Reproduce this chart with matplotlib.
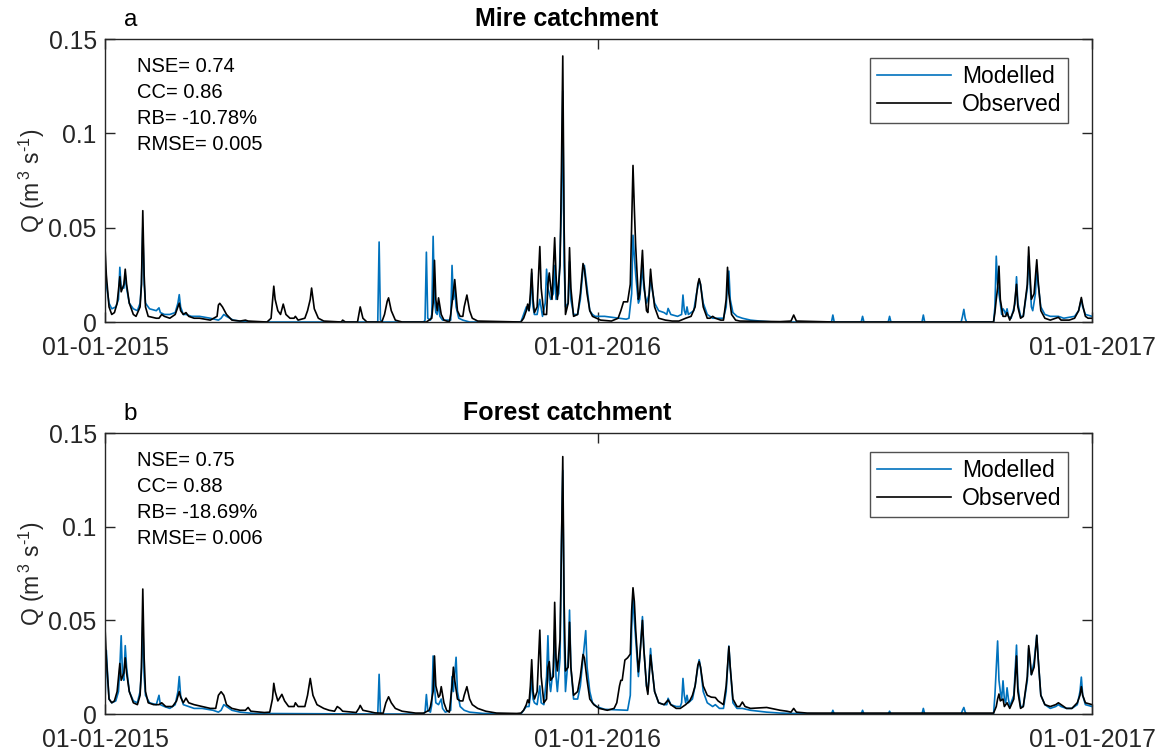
import numpy as np
import matplotlib
matplotlib.use("Agg")
import matplotlib.pyplot as plt
import matplotlib.dates as mdates

plt.rcParams["font.family"] = ["Liberation Sans", "DejaVu Sans"]
plt.rcParams["mathtext.fontset"] = "custom"
plt.rcParams["mathtext.rm"] = "Liberation Sans"

# (day since 01-01-2015, discharge m3/s) at the turning points
MIRE_OBS = [
    (0, .040), (1, .025), (3, .008), (5, .004), (7, .005), (9, .010), (11, .024), (12, .016), (14, .020),
    (15, .028), (16, .020), (18, .010), (21, .004), (23, .003), (26, .008), (27, .020), (28, .059),
    (29, .025), (30, .008), (32, .003), (38, .002), (40, .002), (42, .004), (44, .003), (48, .002),
    (52, .004), (54, .008), (55, .010), (56, .006), (58, .004), (60, .005), (62, .003), (66, .002),
    (70, .002), (78, .001), (83, .003), (84, .009), (85, .0099), (87, .008), (90, .004), (94, .001),
    (100, .0005), (104, .001), (106, .0005), (120, 0), (123, .002), (125, .019), (126, .012), (128, .006),
    (130, .004), (132, .0095), (134, .004), (137, .002), (140, .002), (141, .003), (143, .001), (148, .002),
    (150, .006), (152, .012), (153, .018), (155, .007), (158, .002), (162, .0005), (175, 0), (176, .001),
    (178, 0), (187, 0), (188, .004), (189, .008), (191, .002), (194, 0), (205, 0), (207, .004),
    (209, .011), (210, .0128), (212, .006), (215, .001), (220, 0), (238, 0), (240, .001), (242, .002),
    (243, .010), (244, .0327), (245, .012), (246, .006), (247, .0128), (249, .004), (251, .001), (255, 0),
    (256, .004), (257, .010), (259, .0225), (261, .006), (263, .003), (265, .003), (266, .008),
    (268, .0143), (270, .006), (272, .002), (276, .0005), (308, 0), (310, .002), (312, .006), (313, .0095),
    (314, .006), (315, .015), (316, .028), (317, .012), (318, .005), (320, .008), (322, .040), (323, .018),
    (325, .004), (327, .004), (328, .020), (329, .026), (331, .012), (333, .0447), (334, .025), (335, .012),
    (337, .030), (338, .080), (339, .141), (340, .050), (341, .004), (343, .010), (344, .0394), (345, .018),
    (347, .003), (350, .004), (352, .015), (354, .031), (355, .028), (357, .015), (359, .006), (361, .003),
    (364, .002), (367, .001), (375, .0005), (380, .002), (382, .006), (384, .0107), (387, .0107),
    (389, .020), (391, .083), (392, .060), (393, .040), (395, .012), (396, .015), (398, .038), (399, .022),
    (401, .006), (402, .005), (403, .015), (404, .028), (405, .020), (407, .008), (410, .002), (415, .001),
    (420, .0005), (425, .0005), (430, .002), (434, .003), (437, .008), (439, .020), (440, .023),
    (441, .020), (443, .008), (446, .002), (448, .002), (450, .003), (452, .002), (456, .001), (458, .001),
    (460, .012), (461, .029), (462, .015), (464, .004), (467, .001), (470, .0005), (500, .0002),
    (508, .0005), (510, .0037), (512, .0005), (540, 0), (658, 0), (659, .005), (660, .012), (661, .018),
    (662, .0296), (663, .012), (665, .003), (667, .003), (668, .005), (670, .001), (673, .006), (675, .020),
    (676, .008), (678, .002), (680, .003), (683, .020), (684, .0398), (685, .025), (686, .012), (688, .015),
    (690, .033), (691, .022), (693, .006), (696, .002), (700, .001), (704, .002), (706, .0025), (708, .001),
    (714, .001), (718, .002), (721, .006), (723, .013), (724, .009), (726, .003), (728, .002), (731, .002),
]

MIRE_MOD = [
    (0, .030), (1, .020), (3, .010), (5, .007), (8, .008), (10, .012), (11, .029), (12, .018), (14, .018),
    (15, .025), (16, .018), (18, .010), (21, .007), (24, .006), (26, .010), (27, .020), (28, .050),
    (29, .020), (30, .010), (33, .007), (38, .006), (40, .0075), (41, .005), (44, .004), (48, .004),
    (52, .005), (54, .010), (55, .0145), (56, .008), (58, .004), (60, .004), (64, .003), (70, .003),
    (78, .002), (84, .001), (86, .002), (88, .004), (90, .003), (95, .001), (100, .0005), (110, 0),
    (202, 0), (203, .0424), (204, .001), (206, 0), (236, 0), (237, .001), (238, .037), (239, .002),
    (241, .001), (242, .004), (243, .0454), (244, .012), (245, .005), (246, .004), (247, .010), (248, .003),
    (250, .001), (256, .001), (257, .030), (258, .012), (259, .019), (260, .008), (262, .002), (265, .001),
    (270, 0), (308, 0), (310, .004), (312, .008), (314, .006), (315, .010), (316, .026), (317, .008),
    (318, .004), (320, .004), (322, .012), (324, .003), (326, .010), (327, .028), (328, .018), (330, .012),
    (332, .015), (333, .030), (334, .012), (336, .015), (338, .060), (339, .1225), (340, .030), (341, .008),
    (343, .010), (344, .032), (345, .012), (347, .004), (350, .004), (352, .012), (354, .028), (355, .030),
    (357, .018), (359, .006), (361, .004), (363, .003), (370, .003), (386, .0015), (388, .002), (390, .015),
    (391, .046), (392, .035), (393, .025), (395, .010), (396, .012), (398, .030), (399, .018), (401, .010),
    (403, .015), (404, .024), (405, .018), (407, .010), (410, .006), (414, .005), (416, .004), (417, .0072),
    (419, .004), (424, .003), (427, .004), (428, .0143), (429, .006), (430, .004), (431, .008), (432, .004),
    (436, .006), (438, .015), (440, .022), (441, .020), (443, .010), (446, .004), (450, .002), (458, .002),
    (460, .008), (461, .020), (462, .027), (463, .012), (465, .005), (468, .003), (472, .002), (478, .001),
    (485, .0005), (495, 0), (538, 0), (539, .0037), (540, 0), (560, 0), (561, .003), (562, 0), (580, 0),
    (581, .003), (582, 0), (605, 0), (606, .0037), (607, 0), (634, 0), (635, .003), (636, .0067),
    (637, .002), (638, 0), (658, 0), (659, .008), (660, .0349), (661, .020), (662, .015), (663, .010),
    (664, .004), (665, .007), (666, .006), (667, .004), (668, .007), (669, .003), (671, .002), (674, .010),
    (675, .024), (676, .010), (678, .003), (680, .003), (683, .018), (684, .035), (685, .022), (686, .008),
    (687, .006), (689, .015), (690, .030), (691, .020), (693, .008), (696, .004), (700, .003), (706, .003),
    (710, .002), (718, .003), (721, .006), (723, .012), (724, .008), (726, .004), (731, .003),
]

FOREST_OBS = [
    (0, .0466), (1, .030), (3, .008), (5, .006), (7, .007), (9, .012), (11, .027), (12, .018), (14, .022),
    (15, .030), (16, .022), (18, .012), (21, .006), (24, .005), (26, .010), (27, .025), (28, .0667),
    (29, .030), (30, .012), (32, .006), (36, .005), (40, .005), (42, .006), (45, .004), (50, .004),
    (53, .007), (55, .012), (56, .009), (58, .006), (60, .0085), (62, .006), (66, .005), (72, .004),
    (78, .003), (82, .003), (84, .010), (86, .0119), (88, .010), (90, .005), (94, .003), (100, .002),
    (104, .002), (106, .0035), (108, .0015), (118, .0008), (122, .001), (124, .008), (125, .0164),
    (126, .012), (128, .007), (131, .0105), (133, .007), (136, .004), (140, .004), (141, .006), (143, .004),
    (148, .004), (150, .010), (152, .019), (154, .010), (157, .005), (162, .003), (166, .002), (170, .0015),
    (172, .004), (174, .003), (176, .0015), (186, .0008), (188, .003), (189, .0046), (191, .002),
    (200, .0006), (206, .0004), (208, .006), (210, .0092), (212, .006), (215, .003), (220, .0015),
    (230, .0005), (236, .0005), (240, .002), (241, .004), (243, .012), (244, .031), (245, .015), (247, .009),
    (248, .010), (249, .0146), (251, .006), (253, .002), (255, .001), (256, .008), (257, .015), (258, .025),
    (259, .018), (261, .008), (263, .007), (265, .007), (266, .010), (268, .0146), (270, .008), (272, .005),
    (276, .003), (282, .0015), (290, .0005), (305, .0003), (308, .0005), (310, .002), (312, .005),
    (313, .0075), (314, .006), (315, .015), (316, .029), (317, .012), (318, .008), (320, .012), (322, .0448),
    (323, .020), (325, .006), (327, .008), (328, .025), (329, .028), (330, .018), (332, .020), (333, .0596),
    (334, .030), (335, .023), (337, .040), (338, .090), (339, .1374), (340, .060), (341, .023), (343, .025),
    (344, .049), (345, .025), (347, .010), (350, .012), (352, .020), (354, .0318), (355, .030), (357, .018),
    (359, .008), (362, .005), (366, .003), (372, .002), (377, .003), (379, .006), (381, .015), (382, .018),
    (383, .018), (385, .0288), (387, .030), (389, .032), (390, .055), (391, .0674), (392, .060), (393, .045),
    (395, .0225), (396, .030), (398, .050), (399, .035), (401, .015), (402, .0105), (403, .020),
    (404, .0315), (405, .025), (407, .012), (410, .006), (414, .005), (417, .0075), (419, .005), (423, .003),
    (426, .003), (430, .005), (433, .007), (435, .010), (437, .015), (439, .026), (440, .028), (441, .025),
    (443, .015), (446, .010), (449, .009), (452, .0088), (454, .007), (458, .005), (460, .015), (462, .036),
    (463, .025), (465, .008), (468, .004), (470, .004), (472, .0064), (474, .004), (478, .003),
    (490, .0035), (500, .002), (505, .0015), (508, .001), (510, .003), (512, .001), (520, .0005),
    (658, .0005), (660, .004), (661, .008), (662, .0107), (663, .007), (665, .008), (666, .004), (668, .006),
    (670, .003), (673, .008), (675, .031), (676, .012), (678, .003), (680, .004), (683, .020), (684, .0365),
    (685, .030), (686, .021), (688, .025), (690, .042), (691, .030), (693, .010), (696, .005), (700, .004),
    (704, .005), (706, .006), (708, .005), (712, .003), (716, .003), (720, .006), (722, .010), (723, .0146),
    (724, .010), (726, .006), (731, .005),
]

FOREST_MOD = [
    (0, .006), (1, .034), (2, .020), (3, .008), (5, .006), (8, .007), (10, .012), (11, .025), (12, .0418),
    (13, .020), (14, .018), (15, .0365), (16, .025), (18, .012), (21, .007), (24, .006), (26, .012),
    (27, .022), (28, .050), (29, .020), (30, .010), (33, .006), (38, .005), (40, .010), (41, .005),
    (44, .004), (48, .003), (52, .005), (54, .012), (55, .020), (56, .010), (58, .005), (62, .004),
    (66, .003), (72, .003), (80, .002), (84, .001), (86, .002), (88, .005), (90, .004), (94, .002),
    (100, .001), (110, .0003), (202, 0), (203, .0212), (204, .0005), (206, 0), (236, 0), (237, .001),
    (238, .0104), (239, .002), (241, .001), (242, .005), (243, .031), (244, .015), (245, .006), (247, .005),
    (249, .008), (250, .003), (252, .001), (256, .002), (257, .020), (258, .012), (260, .0303), (261, .012),
    (263, .004), (266, .002), (270, .001), (280, .0003), (308, 0), (310, .002), (312, .004), (314, .004),
    (315, .010), (316, .020), (317, .008), (318, .006), (320, .005), (322, .015), (323, .006), (325, .005),
    (327, .020), (328, .0418), (329, .018), (330, .012), (332, .025), (333, .045), (334, .020), (335, .012),
    (337, .030), (338, .090), (339, .130), (340, .040), (341, .012), (343, .030), (344, .0555), (345, .025),
    (347, .008), (350, .008), (352, .015), (354, .030), (356, .0445), (357, .025), (359, .012), (361, .006),
    (364, .004), (370, .0025), (387, .002), (389, .010), (390, .045), (391, .064), (392, .050), (393, .040),
    (395, .020), (396, .030), (398, .052), (399, .035), (401, .015), (402, .012), (403, .022), (404, .035),
    (405, .025), (407, .012), (410, .006), (414, .005), (416, .005), (417, .0084), (419, .005), (423, .004),
    (426, .004), (427, .006), (428, .019), (429, .010), (430, .006), (431, .010), (432, .006), (435, .008),
    (437, .015), (439, .025), (440, .029), (441, .025), (443, .012), (446, .006), (450, .004), (452, .005),
    (455, .003), (458, .003), (460, .012), (462, .0363), (463, .025), (465, .006), (468, .003), (472, .003),
    (478, .002), (490, .001), (500, .0005), (510, .0003), (538, 0), (539, .002), (540, 0), (560, 0),
    (561, .002), (562, 0), (580, 0), (581, .0015), (582, 0), (605, 0), (606, .003), (607, 0), (634, 0),
    (635, .002), (636, .0035), (637, .001), (638, 0), (658, 0), (659, .010), (660, .024), (661, .039),
    (662, .018), (663, .012), (664, .008), (665, .0177), (666, .008), (667, .006), (668, .014), (669, .008),
    (670, .004), (673, .010), (675, .0368), (676, .015), (678, .004), (680, .004), (683, .018), (684, .035),
    (685, .028), (686, .021), (688, .028), (690, .042), (691, .030), (693, .010), (696, .005), (700, .003),
    (704, .004), (706, .005), (708, .004), (712, .003), (716, .003), (720, .005), (722, .012), (723, .0197),
    (724, .010), (726, .005), (731, .004),
]

PANELS = [
    ("a", "Mire catchment", MIRE_MOD, MIRE_OBS, ["NSE= 0.74", "CC= 0.86", "RB= -10.78%", "RMSE= 0.005"]),
    ("b", "Forest catchment", FOREST_MOD, FOREST_OBS, ["NSE= 0.75", "CC= 0.88", "RB= -18.69%", "RMSE= 0.006"]),
]
START = np.datetime64("2015-01-01")
XTICKS = [np.datetime64("2015-01-01"), np.datetime64("2016-01-01"), np.datetime64("2017-01-01")]
YTICKS = [0, 0.05, 0.1, 0.15]

BLUE = "#0072BD"
AXC = "#262626"


def to_xy(pts):
    d = np.array([p[0] for p in pts])
    q = np.array([p[1] for p in pts])
    return START + d.astype("timedelta64[D]"), q


fig = plt.figure(figsize=(11.6, 7.52), dpi=100)
rects = [[0.0905, 0.5718, 0.851, 0.3763], [0.0905, 0.0505, 0.851, 0.3737]]

for rect, (letter, title, mod, obs, stats) in zip(rects, PANELS):
    ax = fig.add_axes(rect)
    x, y = to_xy(mod)
    ax.plot(x, y, color=BLUE, lw=1.2, label="Modelled")
    x, y = to_xy(obs)
    ax.plot(x, y, color="black", lw=1.2, label="Observed")

    ax.set_xlim(XTICKS[0], XTICKS[-1])
    ax.set_ylim(0, 0.15)
    ax.set_xticks(XTICKS)
    ax.xaxis.set_major_formatter(mdates.DateFormatter("%d-%m-%Y"))
    ax.set_yticks(YTICKS)
    ax.set_yticklabels(["0", "0.05", "0.1", "0.15"])
    ax.tick_params(direction="in", length=7, width=1, colors=AXC, labelsize=17.8,
                   top=True, right=True, pad=6)
    ax.tick_params(axis="x", pad=10)
    for s in ax.spines.values():
        s.set_color(AXC)
        s.set_linewidth(1)

    ax.set_ylabel("Q (m$^{\\,3}$ s$^{\u2010\\mathregular{1}}$)", fontsize=16.5, color=AXC, labelpad=1)
    ax.text(0.468, 1.045, title, transform=ax.transAxes, fontsize=18, fontweight="bold",
            ha="center", va="baseline")
    ax.text(0.019, 1.045, letter, transform=ax.transAxes, fontsize=17.5, ha="left", va="baseline")

    ax.text(0.032, 0.936, "\n".join(stats), transform=ax.transAxes, fontsize=14.5,
            va="top", ha="left", linespacing=1.47)

    leg = ax.legend(loc="upper right", bbox_to_anchor=(0.9757, 0.933), fontsize=16.5,
                    frameon=True, fancybox=False, handlelength=3.25, borderpad=0.3,
                    labelspacing=0.22, handletextpad=0.45, borderaxespad=0)
    leg.get_frame().set_edgecolor(AXC)
    leg.get_frame().set_linewidth(1)

fig.savefig("out.png", dpi=100)
